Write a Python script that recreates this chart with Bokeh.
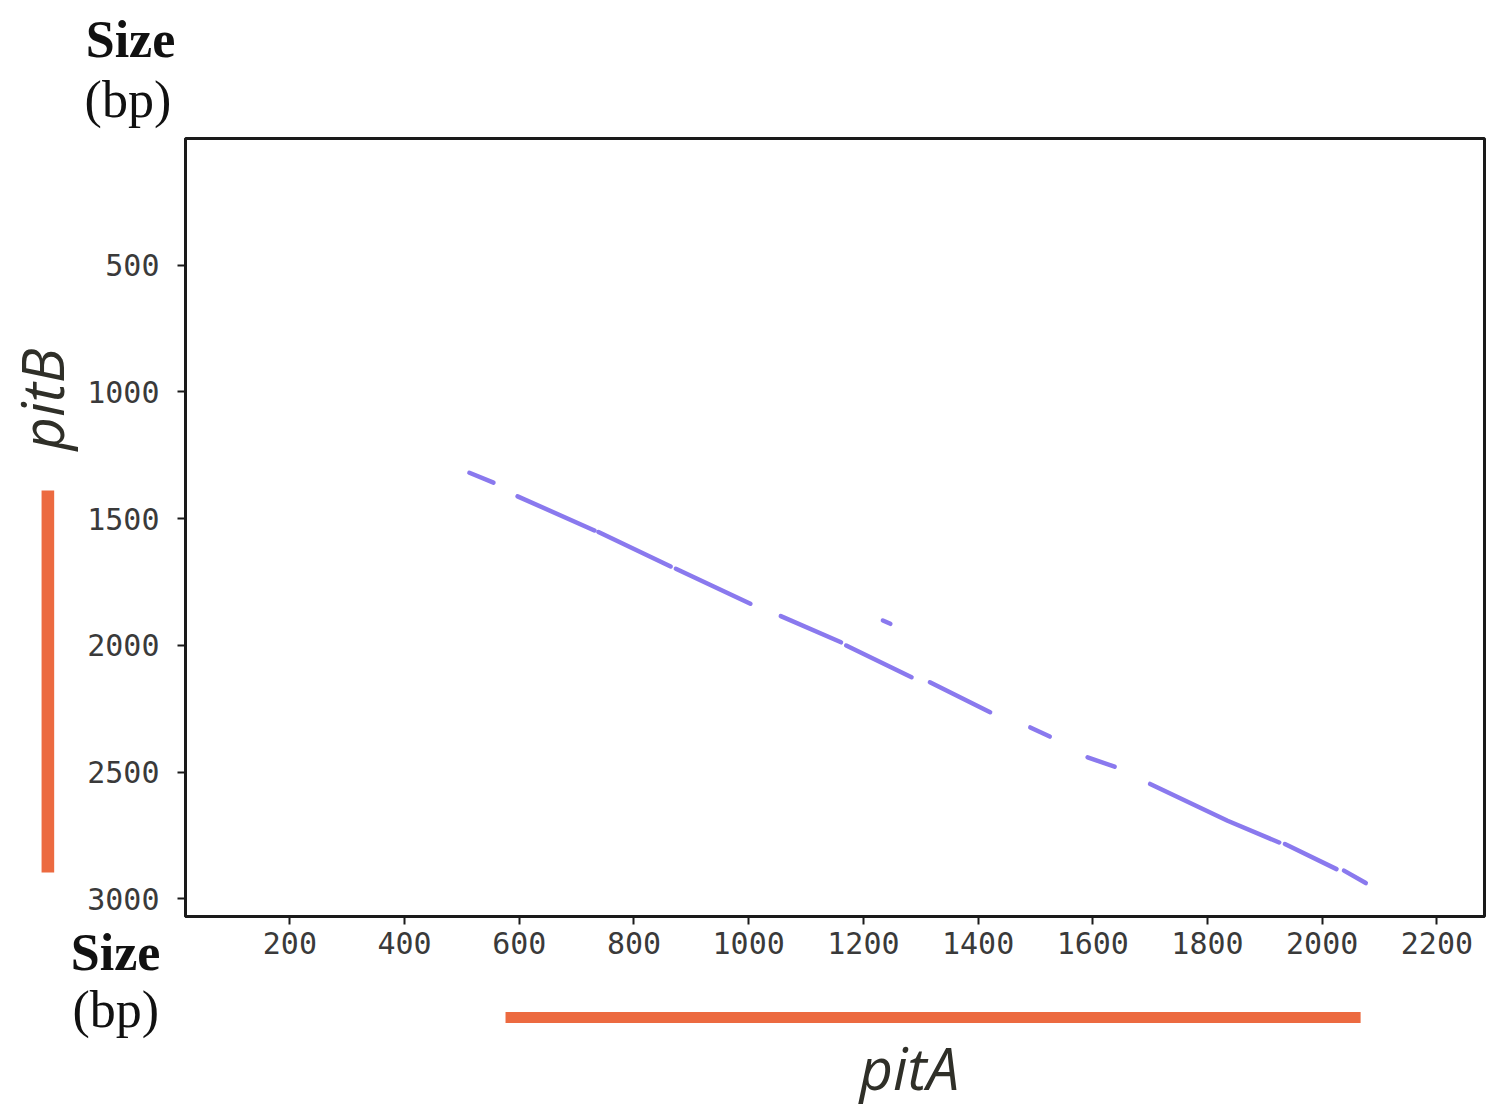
from bokeh.plotting import figure
from bokeh.models import Range1d, Label, BoxAnnotation, FixedTicker, ColumnDataSource, LinearAxis
from bokeh.embed import file_html
from bokeh.resources import INLINE

# ---- data (bp) ----
x_ticks = [200, 400, 600, 800, 1000, 1200, 1400, 1600, 1800, 2000, 2200]
y_ticks = [500, 1000, 1500, 2000, 2500, 3000]
x_limits = [18, 2283]     # pitA axis extent
y_limits = [0, 3070]      # pitB axis extent (drawn top -> bottom)

# dot-plot match fragments: pitA position (x) vs pitB position (y)
match_x = [[513, 555], [597, 731], [738, 864], [873, 1003], [1056, 1161],
           [1170, 1284], [1234, 1247], [1316, 1421], [1491, 1525],
           [1591, 1638], [1700, 1835, 1925], [1935, 2025], [2038, 2076]]
match_y = [[1319, 1358], [1412, 1547], [1553, 1689], [1698, 1836], [1885, 1988],
           [2001, 2126], [1902, 1915], [2146, 2264], [2324, 2360],
           [2442, 2479], [2547, 2692, 2778], [2784, 2883], [2889, 2938]]

# gene extents shown as bars next to the axes
pitA_span = [576, 2067]
pitB_span = [1389, 2896]

W, H = 1486, 1109
# the drawing area spans the whole canvas; the axes sit at fixed data locations
p = figure(width=W, height=H, output_backend="svg", toolbar_location=None,
           x_range=Range1d(-304.6, 2286.5), y_range=Range1d(3831.6, -544.5),
           x_axis_location=None, y_axis_location=None, min_border=0)
p.grid.visible = False
p.background_fill_color = "white"
p.border_fill_color = "white"
p.outline_line_color = None

xaxis = LinearAxis(fixed_location=y_limits[1], bounds=(x_limits[0], x_limits[1]),
                   ticker=FixedTicker(ticks=x_ticks))
yaxis = LinearAxis(fixed_location=x_limits[0], bounds=(y_limits[0], y_limits[1]),
                   ticker=FixedTicker(ticks=y_ticks))
for ax in (xaxis, yaxis):
    ax.axis_line_width = 3
    ax.axis_line_color = "#1a1a1a"
    ax.major_tick_line_width = 2
    ax.major_tick_line_color = "#1a1a1a"
    ax.major_tick_out = 8
    ax.major_tick_in = 0
    ax.minor_tick_out = 0
    ax.minor_tick_in = 0
    ax.major_label_text_font = "DejaVu Sans Mono"
    ax.major_label_text_font_size = "30px"
    ax.major_label_text_color = "#3a3a3a"
xaxis.major_label_standoff = 8
yaxis.major_label_standoff = 18
p.add_layout(xaxis, "below")
p.add_layout(yaxis, "left")

# plot frame
p.add_layout(BoxAnnotation(left=x_limits[0], right=x_limits[1], top=y_limits[0],
                           bottom=y_limits[1], fill_color=None, fill_alpha=0,
                           line_color="#1a1a1a", line_alpha=1, line_width=3))

src = ColumnDataSource(dict(xs=match_x, ys=match_y))
p.multi_line("xs", "ys", source=src, line_color="#8A79EE", line_width=4.5,
             line_cap="round")

# orange gene bars
p.add_layout(BoxAnnotation(left=pitA_span[0], right=pitA_span[1], top=3447, bottom=3490,
                           fill_color="#EC6A40", fill_alpha=1, line_alpha=0))
p.add_layout(BoxAnnotation(left=-233, right=-211, top=pitB_span[0], bottom=pitB_span[1],
                           fill_color="#EC6A40", fill_alpha=1, line_alpha=0))

serif = "Liberation Serif"
def lab(x, y, t, font, size, style="normal", color="#111111", angle=0):
    p.add_layout(Label(x=x, y=y, text=t, text_font=font, text_font_size=size,
                       text_font_style=style, text_color=color,
                       text_baseline="alphabetic", text_align="left", angle=angle))

lab(-156, -391, "Size", serif, "52px", "bold")
lab(-158, -153, "(bp)", serif, "52px")
lab(-182, 3212, "Size", serif, "52px", "bold")
lab(-179, 3437, "(bp)", serif, "52px")
lab(1193, 3664, "pitA", "Open Sans", "58px", "italic", "#2f2f28")
lab(-233, 1231, "pitB", "Open Sans", "58px", "italic", "#2f2f28", angle=1.5708)

open("out.html", "w").write(file_html(p, INLINE))
